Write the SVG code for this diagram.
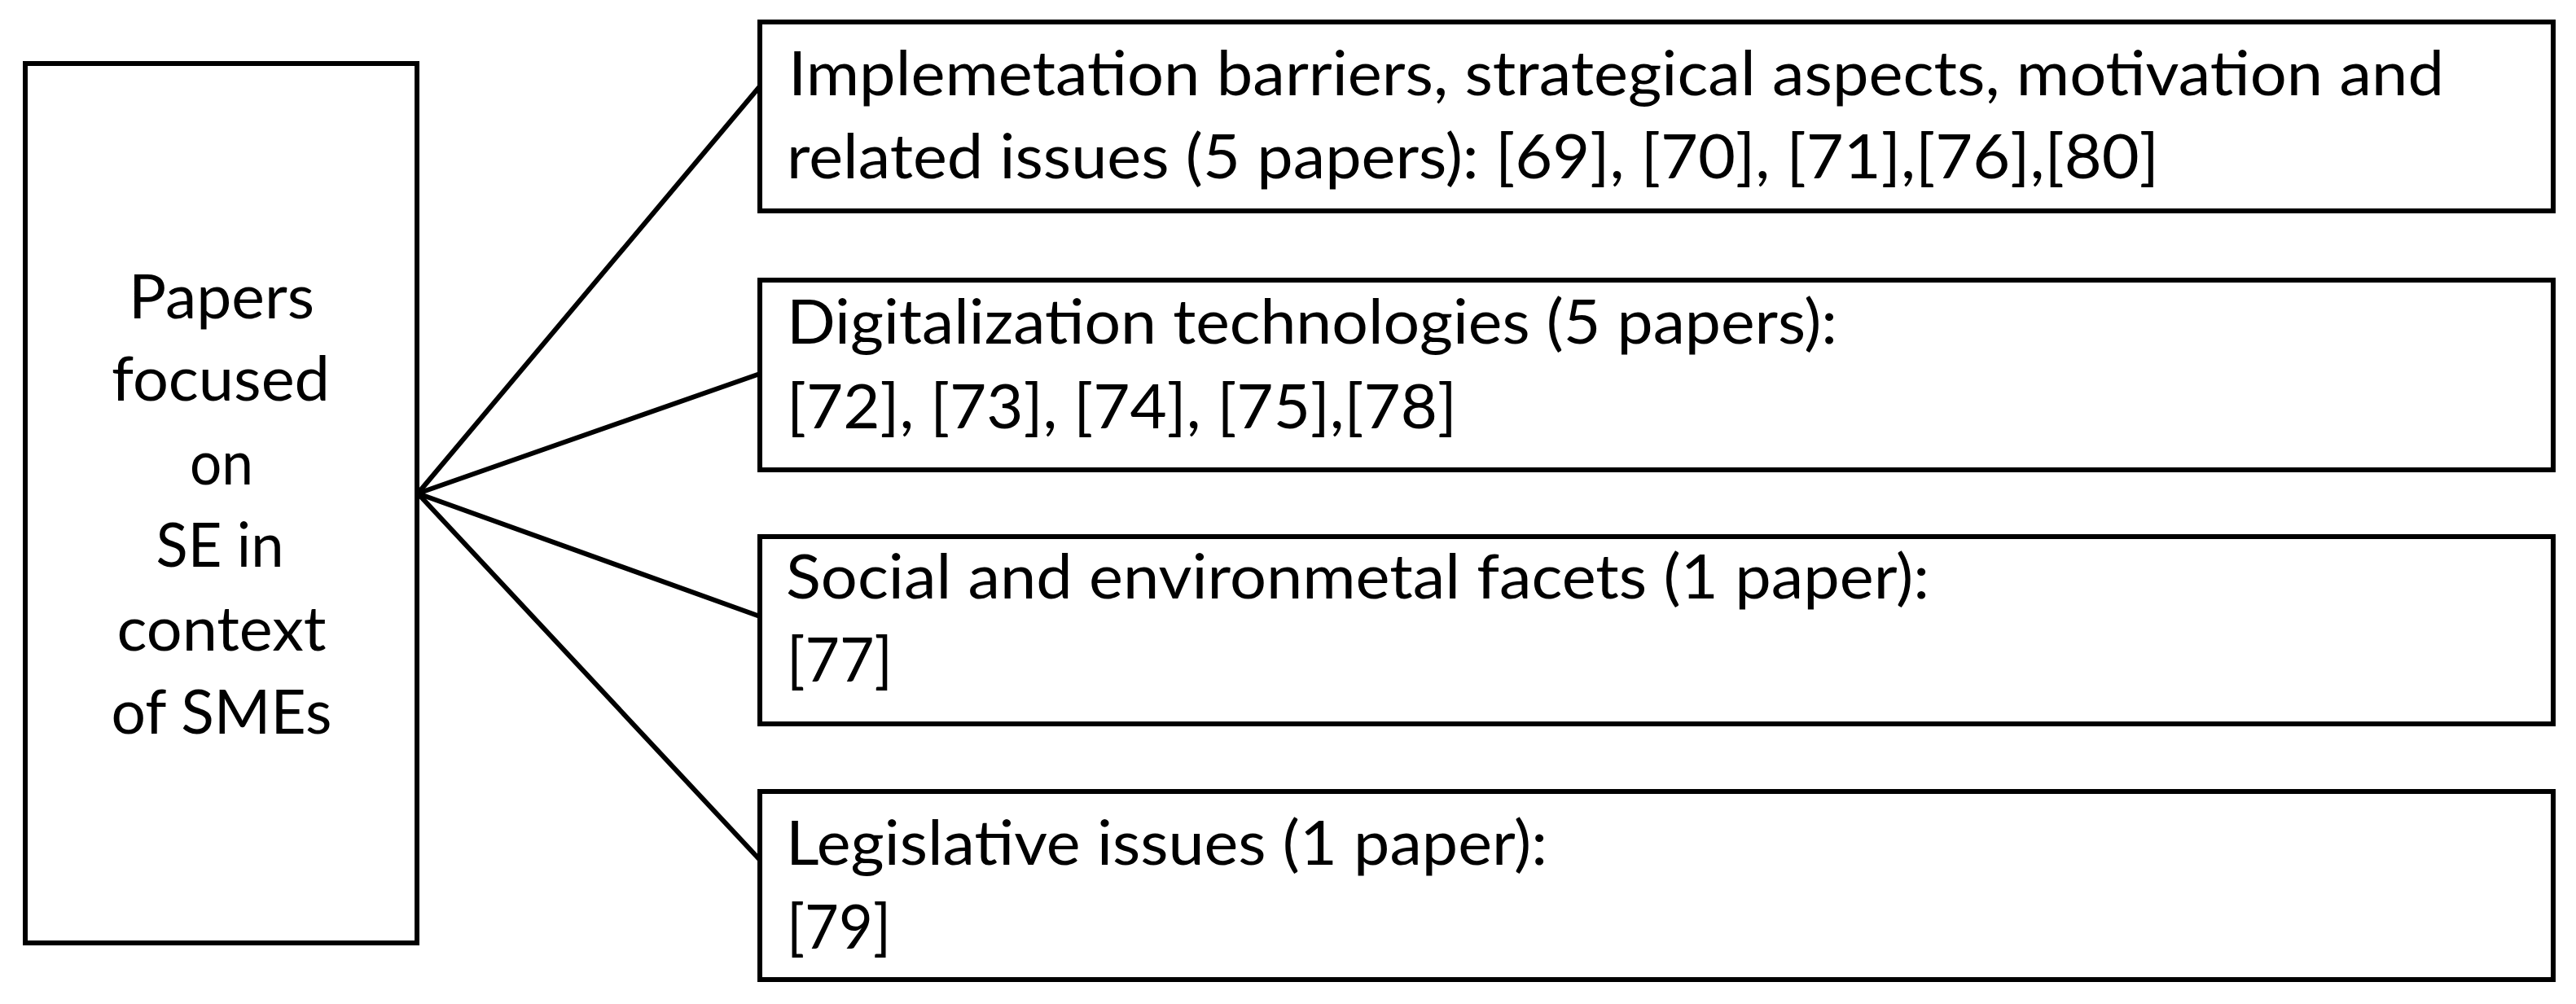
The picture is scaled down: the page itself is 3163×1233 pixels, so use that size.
<svg xmlns="http://www.w3.org/2000/svg" width="3163" height="1233" viewBox="0 0 3163 1233">
<style>
.box{fill:#fff;stroke:#000;stroke-width:6}
.t{font-family:Lato,"Open Sans","Liberation Sans",sans-serif;font-size:76px;fill:#000}
.c{text-anchor:middle}
.con{stroke:#000;stroke-width:6;fill:none;stroke-linecap:round}
</style>
<rect width="3163" height="1233" fill="#fff"/>
<g id="connectors">
<line class="con" x1="513" y1="606" x2="933" y2="106"/>
<line class="con" x1="513" y1="606" x2="933" y2="459"/>
<line class="con" x1="513" y1="606" x2="933" y2="757"/>
<line class="con" x1="513" y1="606" x2="933" y2="1056"/>
</g>
<g id="root">
<rect class="box" x="31" y="78" width="481" height="1080"/>
<text class="t c" x="272" y="391" textLength="228" lengthAdjust="spacingAndGlyphs">Papers</text>
<text class="t c" x="271" y="492" textLength="268" lengthAdjust="spacingAndGlyphs">focused</text>
<text class="t c" x="272" y="595" textLength="78" lengthAdjust="spacingAndGlyphs">on</text>
<text class="t c" x="270" y="696" textLength="157" lengthAdjust="spacingAndGlyphs">SE in</text>
<text class="t c" x="272" y="799" textLength="257" lengthAdjust="spacingAndGlyphs">context</text>
<text class="t c" x="272" y="901" textLength="271" lengthAdjust="spacingAndGlyphs">of SMEs</text>
</g>
<g id="n1">
<rect class="box" x="933" y="27" width="2202" height="232"/>
<text class="t" x="968" y="117" textLength="2033" lengthAdjust="spacingAndGlyphs">Implemetation barriers, strategical aspects, motivation and</text>
<text class="t" x="966" y="219" textLength="1685" lengthAdjust="spacingAndGlyphs">related issues (5 papers): [69], [70], [71],[76],[80]</text>
</g>
<g id="n2">
<rect class="box" x="933" y="344" width="2202" height="233"/>
<text class="t" x="966" y="422" textLength="1290" lengthAdjust="spacingAndGlyphs">Digitalization technologies (5 papers):</text>
<text class="t" x="966" y="526" textLength="823" lengthAdjust="spacingAndGlyphs">[72], [73], [74], [75],[78]</text>
</g>
<g id="n3">
<rect class="box" x="933" y="659" width="2202" height="230"/>
<text class="t" x="965" y="735" textLength="1404" lengthAdjust="spacingAndGlyphs">Social and environmetal facets (1 paper):</text>
<text class="t" x="966" y="837" textLength="130" lengthAdjust="spacingAndGlyphs">[77]</text>
</g>
<g id="n4">
<rect class="box" x="933" y="972" width="2202" height="231"/>
<text class="t" x="965" y="1062" textLength="935" lengthAdjust="spacingAndGlyphs">Legislative issues (1 paper):</text>
<text class="t" x="966" y="1165" textLength="128" lengthAdjust="spacingAndGlyphs">[79]</text>
</g>
</svg>
